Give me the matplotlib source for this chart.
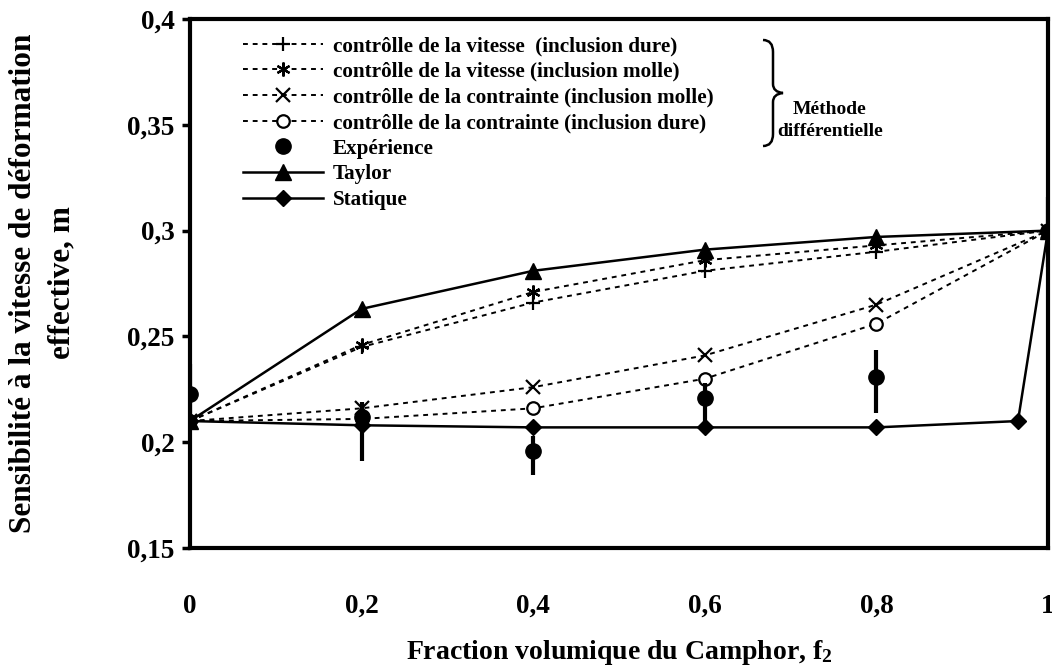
import matplotlib
matplotlib.use("Agg")
import matplotlib.pyplot as plt
from matplotlib.path import Path
from matplotlib.patches import PathPatch

plt.rcParams['font.family'] = ['Liberation Serif', 'DejaVu Serif']
plt.rcParams['font.weight'] = 'bold'
plt.rcParams['mathtext.fontset'] = 'custom'
plt.rcParams['mathtext.rm'] = 'Liberation Serif:bold'
plt.rcParams['mathtext.bf'] = 'Liberation Serif:bold'
plt.rcParams['mathtext.it'] = 'Liberation Serif:bold:italic'

# ---- data ----
f2 = [0.0, 0.2, 0.4, 0.6, 0.8, 1.0]
vitesse_dure = [0.210, 0.245, 0.266, 0.281, 0.290, 0.300]
vitesse_molle = [0.210, 0.246, 0.271, 0.286, 0.293, 0.300]
contrainte_molle = [0.210, 0.216, 0.226, 0.241, 0.265, 0.300]
contrainte_dure = [0.210, 0.211, 0.216, 0.230, 0.256, 0.300]
taylor = [0.210, 0.263, 0.281, 0.291, 0.297, 0.300]

f2_exp = [0.0, 0.2, 0.4, 0.6, 0.8, 1.0]
exp_m = [0.223, 0.212, 0.196, 0.221, 0.231, 0.300]
exp_err_low = [0.014, 0.021, 0.0115, 0.012, 0.017, 0.017]
exp_err_high = [0.014, 0.007, 0.007, 0.007, 0.0126, 0.016]

f2_stat = [0.0, 0.2, 0.4, 0.6, 0.8, 0.965, 1.0]
statique = [0.210, 0.208, 0.207, 0.207, 0.207, 0.210, 0.300]

xticks = [0, 0.2, 0.4, 0.6, 0.8, 1]
xticklabels = ['0', '0,2', '0,4', '0,6', '0,8', '1']
yticks = [0.15, 0.2, 0.25, 0.3, 0.35, 0.4]
yticklabels = ['0,15', '0,2', '0,25', '0,3', '0,35', '0,4']

labels = ['contrôlle de la vitesse  (inclusion dure)',
          'contrôlle de la vitesse (inclusion molle)',
          'contrôlle de la contrainte (inclusion molle)',
          'contrôlle de la contrainte (inclusion dure)',
          'Expérience', 'Taylor', 'Statique']

W, H = 1052, 672
fig = plt.figure(figsize=(W / 100, H / 100), dpi=100)
ax = fig.add_axes([190 / W, (H - 548) / H, (1048 - 190) / W, (548 - 19) / H])

dash = (0, (2.5, 2.5))
l1, = ax.plot(f2, vitesse_dure, color='k', lw=1.4, linestyle=dash, marker='+', ms=10, mew=1.6)
l2, = ax.plot(f2, vitesse_molle, color='k', lw=1.4, linestyle=dash, marker=(6, 2, 0), ms=10, mew=1.6)
l3, = ax.plot(f2, contrainte_molle, color='k', lw=1.4, linestyle=dash, marker='x', ms=10, mew=1.6)
l4, = ax.plot(f2, contrainte_dure, color='k', lw=1.4, linestyle=dash, marker='o', ms=9,
              mfc='white', mec='k', mew=1.6)
ax.errorbar(f2_exp, exp_m, yerr=[exp_err_low, exp_err_high], fmt='none', ecolor='k',
            elinewidth=3, capsize=0, zorder=4)
l5, = ax.plot(f2_exp, exp_m, linestyle='none', marker='o', ms=11, color='k', zorder=5)
l6, = ax.plot(f2, taylor, color='k', lw=1.8, marker='^', ms=11)
l7, = ax.plot(f2_stat, statique, color='k', lw=1.8, marker='D', ms=8)

ax.set_xlim(0, 1)
ax.set_ylim(0.15, 0.4)
ax.set_xticks(xticks)
ax.set_xticklabels(xticklabels, fontsize=19.5, fontweight='bold')
ax.set_yticks(yticks)
ax.set_yticklabels(yticklabels, fontsize=19.5, fontweight='bold')
ax.tick_params(axis='y', direction='out', length=6, width=2.5, pad=5)
ax.tick_params(axis='x', direction='out', length=0, width=2.5, pad=33)
for s in ax.spines.values():
    s.set_linewidth(3)

ax.set_xlabel('Fraction volumique du Camphor, f$_{2}$', fontsize=20, fontweight='bold', labelpad=14)
yc = (H - 283) / H
fig.text(24 / W, yc, 'Sensibilité à la vitesse de déformation', rotation=90,
         ha='center', va='center', fontsize=22.5, fontweight='bold')
fig.text(62 / W, yc, 'effective, m', rotation=90,
         ha='center', va='center', fontsize=22.5, fontweight='bold')

leg = fig.legend([l1, l2, l3, l4, l5, l6, l7], labels, loc='upper left',
                 bbox_to_anchor=(243 / W, (H - 36) / H), bbox_transform=fig.transFigure,
                 frameon=False, borderpad=0, borderaxespad=0, handlelength=3.8,
                 handletextpad=0.45, labelspacing=0.27, numpoints=1,
                 prop={'family': 'Liberation Serif', 'weight': 'bold', 'size': 15.2})

# brace in pixel coordinates (figure pixels, y from top)
def P(x, y):
    return (x / W, (H - y) / H)
verts = [P(763, 40), P(773, 40), P(773, 52), P(773, 84), P(773, 92), P(783, 93),
         P(773, 94), P(773, 102), P(773, 134), P(773, 146), P(763, 146)]
codes = [Path.MOVETO, Path.CURVE3, Path.CURVE3, Path.LINETO, Path.CURVE3, Path.CURVE3,
         Path.CURVE3, Path.CURVE3, Path.LINETO, Path.CURVE3, Path.CURVE3]
fig.patches.append(PathPatch(Path(verts, codes), transform=fig.transFigure, fill=False,
                             lw=1.8, color='k'))
fig.text(830 / W, (H - 110) / H, 'Méthode', ha='center', va='center', fontsize=14, fontweight='bold')
fig.text(830 / W, (H - 132) / H, 'différentielle', ha='center', va='center', fontsize=14, fontweight='bold')

fig.savefig('out.png', dpi=100)
